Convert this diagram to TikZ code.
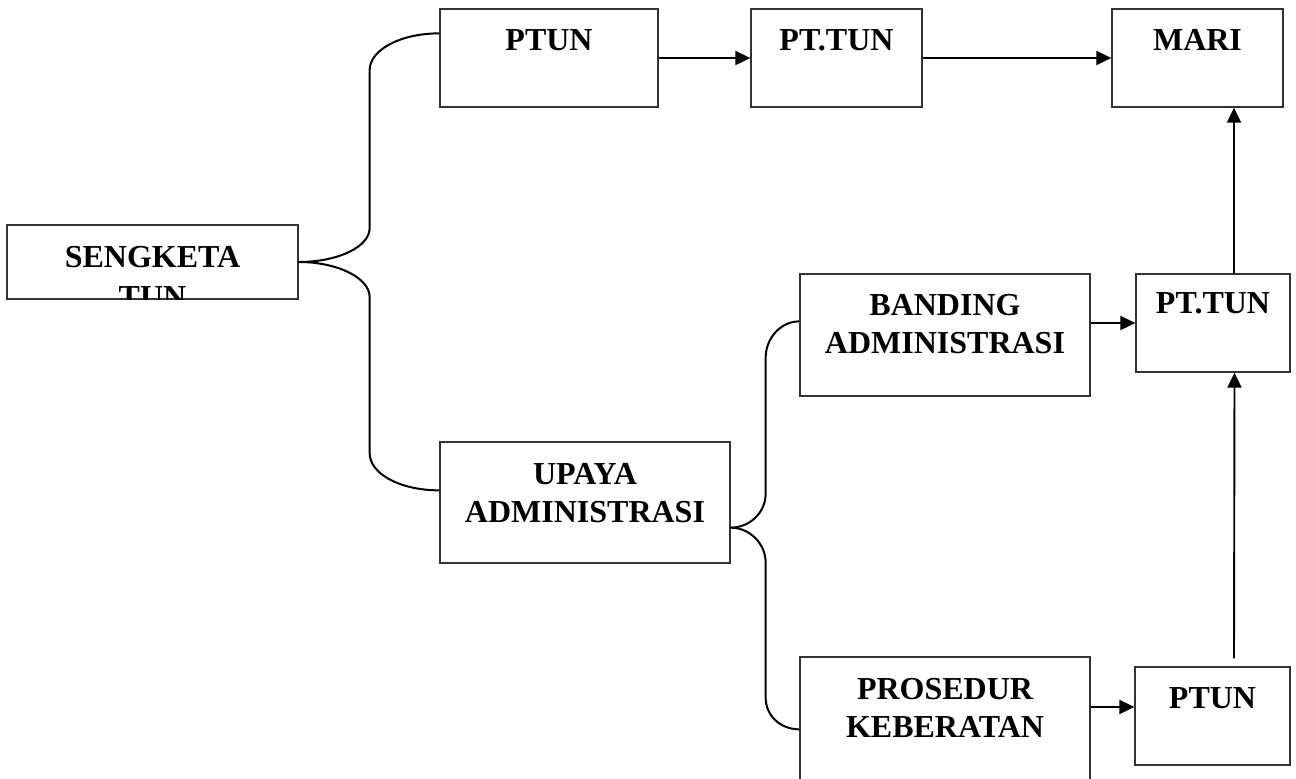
\documentclass[tikz,border=0pt]{standalone}
\usepackage{fontspec}
\setmainfont{Liberation Serif}
\usetikzlibrary{arrows.meta,calc}
\tikzset{
  box/.style={draw=black!80, line width=1.3pt, rectangle, inner sep=0pt},
  lbl/.style={font=\fontsize{32}{38}\selectfont\bfseries, align=center, anchor=north, inner sep=0pt},
  arr/.style={line width=1.9pt, -{Triangle[length=15pt,width=14pt]}},
  brace/.style={line width=2pt}
}
\begin{document}
\begin{tikzpicture}[x=1pt,y=-1pt]
\clip (0,0) rectangle (1296,779);
\node[box, minimum width=291pt, minimum height=74pt] (sengketa) at (152.5,262) {};
\node[box, minimum width=218pt, minimum height=98pt] (ptunA) at (549,58) {};
\node[box, minimum width=171pt, minimum height=98pt] (pttunA) at (836.5,58) {};
\node[box, minimum width=171pt, minimum height=98pt] (mari) at (1197.5,58) {};
\node[box, minimum width=290pt, minimum height=122pt] (banding) at (945,335) {};
\node[box, minimum width=154pt, minimum height=98pt] (pttunB) at (1213,323) {};
\node[box, minimum width=290pt, minimum height=121pt] (upaya) at (585,502.5) {};
\node[box, minimum width=290pt, minimum height=143pt] (prosedur) at (945,728.5) {};
\node[box, minimum width=155pt, minimum height=98pt] (ptunB) at (1212.5,716) {};
\begin{scope}
\clip (sengketa.north west) rectangle (sengketa.south east);
\node[lbl, font=\fontsize{32}{40}\selectfont\bfseries] (sengketaTxt) at ([yshift=-22pt]sengketa.north) {SENGKETA\\TUN};
\end{scope}
\node[lbl] (ptunATxt) at ([yshift=-21pt]ptunA.north) {PTUN};
\node[lbl] (pttunATxt) at ([yshift=-21pt]pttunA.north) {PT.TUN};
\node[lbl] (mariTxt) at ([yshift=-21pt]mari.north) {MARI};
\node[lbl] (bandingTxt) at ([yshift=-21pt]banding.north) {BANDING\\ADMINISTRASI};
\node[lbl] (pttunBTxt) at ([yshift=-19pt]pttunB.north) {PT.TUN};
\node[lbl] (upayaTxt) at ([yshift=-22pt]upaya.north) {UPAYA\\ADMINISTRASI};
\node[lbl] (prosedurTxt) at ([yshift=-22pt]prosedur.north) {PROSEDUR\\KEBERATAN};
\node[lbl] (ptunBTxt) at ([yshift=-21pt]ptunB.north) {PTUN};
\draw[brace] (sengketa.east) .. controls +(39,0) and +(0,19) .. ++(71,-34) -- ++(0,-158)
  .. controls +(0,-20) and +(-39,0) .. ($(ptunA.north west)+(0,25)$);
\draw[brace] (sengketa.east) .. controls +(39,0) and +(0,-19) .. ++(71,35) -- ++(0,156)
  .. controls +(0,21) and +(-39,0) .. ($(upaya.north west)+(0,49)$);
\draw[brace] ($(upaya.south east)+(0,-36)$) .. controls +(19,0) and +(0,19) .. ++(35,-34) -- ++(0,-136)
  .. controls +(0,-19) and +(-19,0) .. ($(banding.north west)+(0,48)$);
\draw[brace] ($(upaya.south east)+(0,-36)$) .. controls +(19,0) and +(0,-19) .. ++(35,35) -- ++(0,135)
  .. controls +(0,18) and +(-19,0) .. ($(prosedur.north west)+(0,73)$);
\draw[arr] (ptunA.east) -- (pttunA.west);
\draw[arr] (pttunA.east) -- (mari.west);
\draw[arr] (banding.east |- pttunB.west) -- (pttunB.west);
\draw[arr] ([yshift=9pt]ptunB.west -| prosedur.east) -- ([yshift=9pt]ptunB.west);
\draw[arr] ([xshift=21.5pt,yshift=8pt]ptunB.north) -- ([xshift=21.5pt]pttunB.south);
\draw[arr] ([xshift=21pt]pttunB.north) -- ([xshift=21pt]pttunB.north |- mari.south);
\end{tikzpicture}
\end{document}
